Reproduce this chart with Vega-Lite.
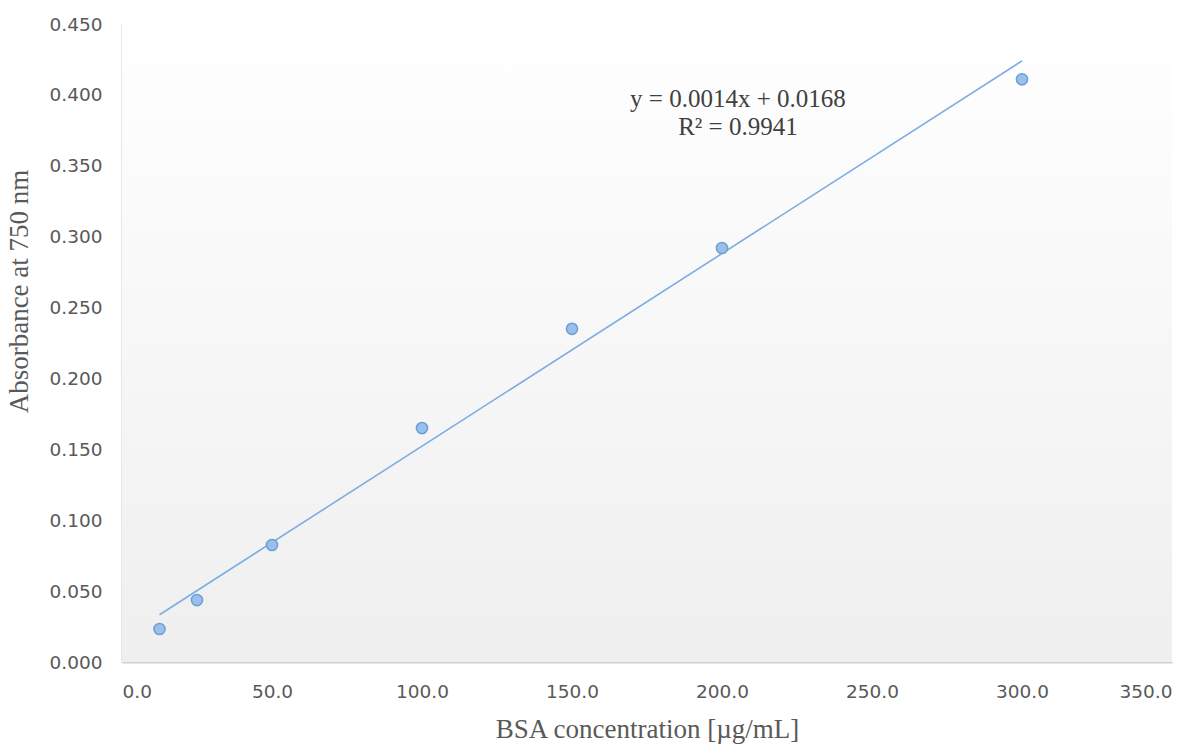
{
  "$schema": "https://vega.github.io/schema/vega-lite/v6.json",
  "width": 1050,
  "height": 638,
  "autosize": "none",
  "padding": {"left": 122, "top": 24, "right": 32, "bottom": 85},
  "background": "white",
  "config": {
    "view": {"stroke": null},
    "axis": {
      "grid": false,
      "ticks": false,
      "domainColor": "#d0d0d0",
      "domainWidth": 2,
      "labelFont": "DejaVu Sans",
      "labelFontSize": 18.5,
      "labelColor": "#595959",
      "titleFont": "Liberation Serif",
      "titleFontSize": 27,
      "titleFontWeight": "normal",
      "titleColor": "#595959"
    }
  },
  "data": {
    "values": [
      {"conc": 12.5, "abs": 0.0233},
      {"conc": 25, "abs": 0.0437},
      {"conc": 50, "abs": 0.0825},
      {"conc": 100, "abs": 0.165},
      {"conc": 150, "abs": 0.235},
      {"conc": 200, "abs": 0.292},
      {"conc": 300, "abs": 0.411}
    ]
  },
  "layer": [
    {
      "data": {"values": [{}]},
      "mark": {
        "type": "rect",
        "fill": {
          "gradient": "linear",
          "x1": 0, "y1": 0, "x2": 0, "y2": 1,
          "stops": [
            {"offset": 0, "color": "#ffffff"},
            {"offset": 1, "color": "#efefef"}
          ]
        }
      },
      "encoding": {
        "x": {"datum": 0, "type": "quantitative", "scale": {"domain": [0, 350]}},
        "x2": {"datum": 350},
        "y": {"datum": 0, "type": "quantitative", "scale": {"domain": [0, 0.45]}},
        "y2": {"datum": 0.45}
      }
    },
    {
      "transform": [{"regression": "abs", "on": "conc", "extent": [12.5, 300]}],
      "mark": {"type": "line", "color": "#7aaee0", "strokeWidth": 1.6},
      "encoding": {
        "x": {"field": "conc", "type": "quantitative"},
        "y": {"field": "abs", "type": "quantitative"}
      }
    },
    {
      "mark": {"type": "point", "filled": true, "fill": "#9bbfe8", "stroke": "#6a9fd8", "strokeWidth": 1.5, "size": 125, "opacity": 1},
      "encoding": {
        "x": {
          "field": "conc", "type": "quantitative",
          "scale": {"domain": [0, 350], "nice": false},
          "axis": {"values": [0, 50, 100, 150, 200, 250, 300, 350], "format": ".1f", "labelPadding": 20, "title": "BSA concentration [µg/mL]", "titlePadding": 16}
        },
        "y": {
          "field": "abs", "type": "quantitative",
          "scale": {"domain": [0, 0.45], "nice": false},
          "axis": {"values": [0, 0.05, 0.1, 0.15, 0.2, 0.25, 0.3, 0.35, 0.4, 0.45], "format": ".3f", "labelPadding": 20, "title": "Absorbance at 750 nm", "titlePadding": 16, "titleY": 267}
        }
      }
    },
    {
      "data": {"values": [{}]},
      "mark": {"type": "text", "font": "Liberation Serif", "fontSize": 25, "color": "#404040", "align": "center", "baseline": "middle", "lineHeight": 28},
      "encoding": {
        "x": {"datum": 205.3, "type": "quantitative"},
        "y": {"datum": 0.397, "type": "quantitative"},
        "text": {"value": ["y = 0.0014x + 0.0168", "R² = 0.9941"]}
      }
    }
  ]
}
